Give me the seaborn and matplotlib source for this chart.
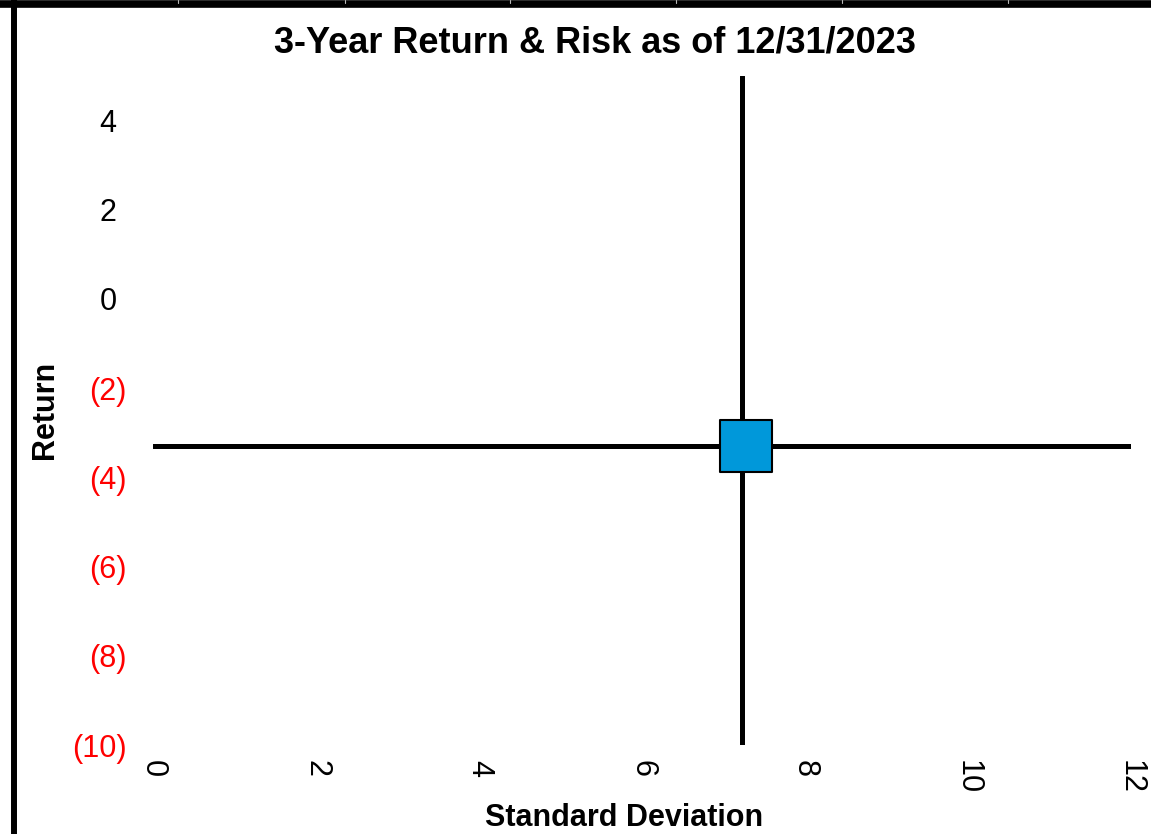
import matplotlib
matplotlib.use("Agg")
import matplotlib.pyplot as plt
import matplotlib.transforms as mtransforms
from matplotlib.lines import Line2D
import pandas as pd
import seaborn as sns

# ---- data ----
title = "3-Year Return & Risk as of 12/31/2023"
x_label = "Standard Deviation"
y_label = "Return"

fund_std = [7.28]
fund_return = [-3.29]
cross_std = 7.23
cross_return = -3.29

x_ticks = [0, 2, 4, 6, 8, 10, 12]
y_ticks = [4, 2, 0, -2, -4, -6, -8, -10]
x_limits = (0, 12)
y_limits = (-10, 5)

W, H = 1151, 834

sns.set_theme(style="white")
plt.rcParams["font.family"] = ["Liberation Sans", "DejaVu Sans"]
plt.rcParams["text.color"] = "black"
plt.rcParams["axes.labelcolor"] = "black"
plt.rcParams["xtick.color"] = "black"
plt.rcParams["ytick.color"] = "black"

fig = plt.figure(figsize=(W / 100, H / 100), dpi=100)
ax = fig.add_axes([153 / W, 1 - 745 / H, (1131 - 153) / W, (745 - 76) / H])

# crosshair lines + fund marker
ax.axhline(cross_return, color="black", lw=3.6, zorder=2)
ax.axvline(cross_std, color="black", lw=3.6, zorder=2)
df = pd.DataFrame({"std": fund_std, "ret": fund_return})
sns.scatterplot(data=df, x="std", y="ret", marker="s", s=1450, color="#0098DA",
                edgecolor="black", linewidth=1.5, zorder=3, ax=ax, legend=False)

ax.set_xlim(*x_limits)
ax.set_ylim(*y_limits)
for sp in ax.spines.values():
    sp.set_visible(False)

# x ticks, rotated
ax.set_xticks(x_ticks)
ax.set_xticklabels([str(v) for v in x_ticks], rotation=-90, fontsize=22, color="black")
ax.tick_params(axis="x", length=0, pad=11)

# y ticks: negatives in parentheses, red
ax.set_yticks(y_ticks)
ylabels = [str(v) if v >= 0 else f"({abs(v)})" for v in y_ticks]
ax.set_yticklabels(ylabels, fontsize=22)
ax.tick_params(axis="y", length=0, pad=19)
shift = mtransforms.ScaledTranslation(-10 / 100, 0, fig.dpi_scale_trans)
for lab, v in zip(ax.get_yticklabels(), y_ticks):
    if v < 0:
        lab.set_color("#FF0000")
    else:
        lab.set_color("black")
        lab.set_transform(lab.get_transform() + shift)

ax.set_xlabel(x_label, fontsize=22, fontweight="bold", color="black")
ax.xaxis.set_label_coords((624 - 153) / 978, (745 - 818) / 669)
ax.xaxis.label.set_va("center")
ax.set_ylabel(y_label, fontsize=22, fontweight="bold", color="black")
ax.yaxis.set_label_coords((45 - 153) / 978, (745 - 410) / 669)
ax.yaxis.label.set_va("center")

fig.text(595 / W, 1 - 43 / H, title, ha="center", va="center",
         fontsize=26, fontweight="bold", color="black")

# page borders from the surrounding layout
fig.add_artist(Line2D([14 / W, 14 / W], [0, 1], transform=fig.transFigure,
                      color="black", lw=4.3))
fig.add_artist(Line2D([0, 1], [1 - 3.5 / H, 1 - 3.5 / H], transform=fig.transFigure,
                      color="black", lw=5.5))
for xp in [178, 345, 510, 676, 842, 1008]:
    fig.add_artist(Line2D([xp / W, xp / W], [1 - 2.5 / H, 1], transform=fig.transFigure,
                          color="#BBBBBB", lw=0.8))

fig.savefig("out.png", dpi=100)
